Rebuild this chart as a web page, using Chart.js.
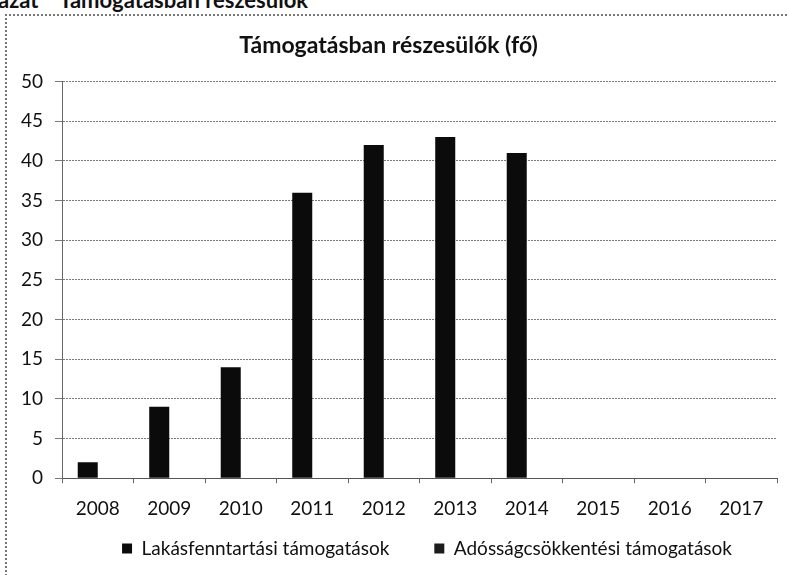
<!DOCTYPE html>
<html>
<head>
<meta charset="utf-8">
<script src="https://cdn.jsdelivr.net/npm/chart.js@4.4.1/dist/chart.umd.min.js"></script>
<style>
  html, body { margin: 0; padding: 0; background: #fff; }
  #wrap { position: relative; width: 789px; height: 575px; overflow: hidden; }
  #head { position: absolute; left: -2px; top: -14px; font: bold 22px Lato, sans-serif; color: #111; white-space: nowrap; }
  #frame { position: absolute; left: 5px; top: 14px; width: 800px; height: 600px; border-left: 2px dotted #777; border-top: 2px dotted #777; }
  #chart { position: absolute; left: 0; top: 0; }
</style>
</head>
<body>
<div id="wrap">
  <div id="head">ázat&nbsp;&nbsp;&nbsp;&nbsp;Támogatásban részesülők</div>
  <div id="frame"></div>
  <canvas id="chart" width="789" height="575"></canvas>
</div>
<script>
const years = ['2008', '2009', '2010', '2011', '2012', '2013', '2014', '2015', '2016', '2017'];
const lakasfenntartasi = [2, 9, 14, 36, 42, 43, 41, null, null, null];
const adossagcsokkentesi = [0, 0, 0, 0, 0, 0, 0, null, null, null];
const yTicks = [0, 5, 10, 15, 20, 25, 30, 35, 40, 45, 50];

const ctx = document.getElementById('chart');

// the legend needs a wide gap between items, which also pads it vertically;
// pull it back up after layout so the chart area keeps its size
const liftLegend = {
    id: 'liftLegend',
    afterLayout(chart) {
        const lg = chart.legend;
        lg.top = 494;
        lg.bottom = 575;
        lg.height = 81;
    }
};

new Chart(ctx, {
    type: 'bar',
    data: {
        labels: years,
        datasets: [{
            label: 'Lakásfenntartási támogatások',
            data: lakasfenntartasi,
            backgroundColor: '#0b0b0b',
            borderWidth: 0
        }, {
            label: 'Adósságcsökkentési támogatások',
            data: adossagcsokkentesi,
            backgroundColor: '#1c1c1c',
            borderWidth: 0
        }]
    },
    plugins: [liftLegend],
    options: {
        responsive: false,
        animation: false,
        layout: { padding: { left: 0, right: 12, top: 0, bottom: 6 } },
        datasets: { bar: { categoryPercentage: 0.56, barPercentage: 1.0 } },
        plugins: {
            title: {
                display: true,
                text: 'Támogatásban részesülők (fő)',
                color: '#111',
                font: { family: 'Lato', size: 23, weight: 'bold' },
                padding: { top: 32, bottom: 22 }
            },
            legend: {
                position: 'bottom',
                align: 'end',
                maxHeight: 35,
                labels: {
                    color: '#111',
                    font: { family: 'Lato', size: 19 },
                    boxWidth: 10,
                    boxHeight: 10,
                    padding: 45
                }
            },
            tooltip: { enabled: false }
        },
        scales: {
            x: {
                grid: { drawOnChartArea: false, drawTicks: true, tickLength: 5, color: '#666' },
                border: { color: '#555', width: 1 },
                ticks: { color: '#111', font: { family: 'Lato', size: 19 }, padding: 14, maxRotation: 0 }
            },
            y: {
                min: 0,
                max: 50,
                afterFit: function (scale) { scale.width = 62; },
                afterBuildTicks: function (scale) { scale.ticks = yTicks.map(v => ({ value: v })); },
                grid: { color: '#7a7a7a', tickLength: 7, lineWidth: 1 },
                border: { color: '#666', width: 1, dash: [2, 1] },
                ticks: { color: '#111', font: { family: 'Lato', size: 19 }, padding: 12 }
            }
        }
    }
});
</script>
</body>
</html>
